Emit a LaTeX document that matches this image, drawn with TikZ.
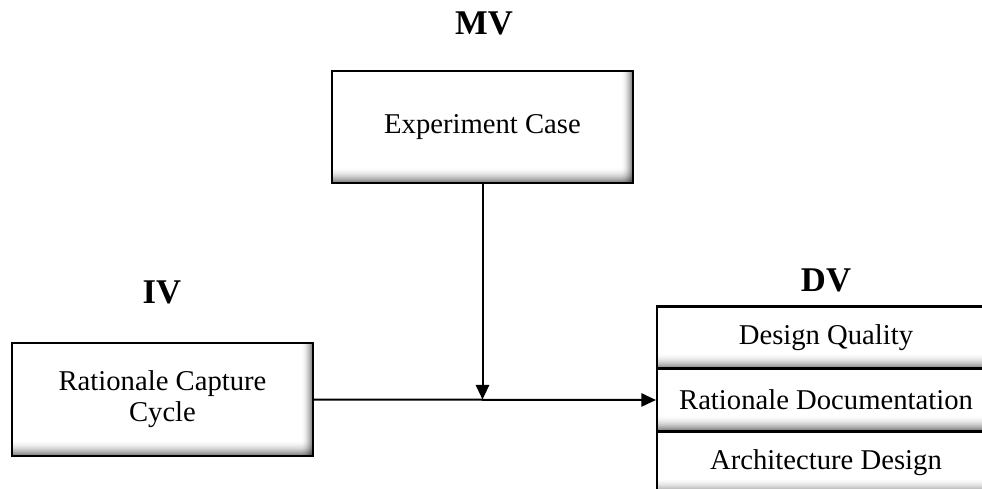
\documentclass[tikz,border=0pt]{standalone}
\usepackage{fontspec}
\setmainfont{Liberation Serif}
\usetikzlibrary{arrows.meta}

\tikzset{
  % box with soft grey bands along its lower and right inner edges,
  % built from thin translucent strips that fade away from the edge
  varbox/.style={draw, line width=1.6pt, fill=white, inner sep=0pt, align=center,
    font=\fontsize{21.5}{23.4}\selectfont,
    path picture={
      \foreach \i in {1,...,12}{
        \pgfmathsetmacro\c{0.5*((13-\i)/12)^2}
        \fill[black, fill opacity=\c]
          ([xshift={-\i*0.75pt}]path picture bounding box.south east)
          rectangle ([xshift={-(\i-1)*0.75pt}]path picture bounding box.north east);
      }
      \foreach \i in {1,...,16}{
        \pgfmathsetmacro\c{0.5*((17-\i)/16)^2}
        \fill[black, fill opacity=\c]
          ([yshift={(\i-1)*0.75pt}]path picture bounding box.south west)
          rectangle ([yshift={\i*0.75pt}]path picture bounding box.south east);
      }
    }},
  widebox/.style={varbox, minimum width=225.75pt, minimum height=84pt},
  dvbox/.style={varbox, minimum width=253.5pt, minimum height=46.5pt},
  lbl/.style={font=\bfseries\fontsize{26}{30}\selectfont, inner sep=0pt},
  conn/.style={line width=1.5pt, -{Triangle[length=11pt,width=10pt]}}
}

\begin{document}
\begin{tikzpicture}[x=0.75pt,y=-0.75pt]
  \useasboundingbox (0,0) rectangle (982,489);
  \clip (0,0) rectangle (982,489);

  % group labels
  \node[lbl] (mv) at (484,23) {MV};
  \node[lbl] (iv) at (162,292) {IV};
  \node[lbl] (dv) at (826,280) {DV};

  % moderator and independent variable
  \node[widebox] (exp) at (482.5,127) {Experiment Case};
  \node[widebox, minimum height=84.75pt] (rc) at (162.5,399.5) {Rationale Capture\\Cycle};

  % dependent variables, stacked
  \node[dvbox] (dq) at (826,337.5) {Design Quality};
  \node[dvbox] (rd) at (826,400) {Rationale Documentation};
  \node[dvbox] (ad) at (826,462.5) {Architecture Design};

  % connectors
  \coordinate (join) at (exp.south |- rc.east);
  \draw[conn] (rc.east) -- (rd.west);
  \draw[conn] (exp.south) -- (join);
\end{tikzpicture}
\end{document}
